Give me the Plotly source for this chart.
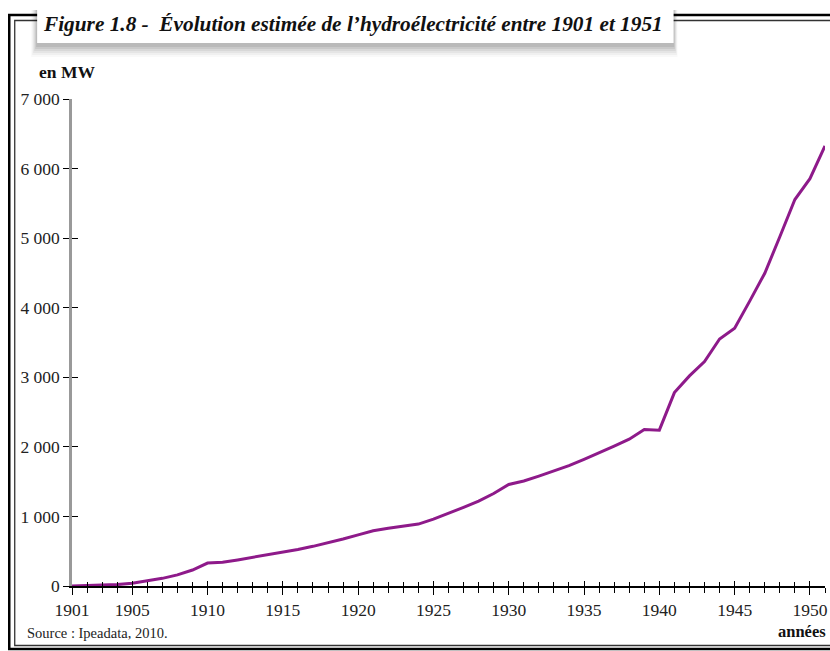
import plotly.graph_objects as go

years = list(range(1901, 1952))
mw = [0, 5, 10, 20, 40, 70, 110, 160, 230, 330,
      340, 375, 410, 445, 480, 525, 570, 620, 675, 735,
      795, 830, 860, 890, 960, 1040, 1130, 1220, 1330, 1460,
      1510, 1580, 1650, 1730, 1820, 1910, 2010, 2110, 2250, 2240,
      2780, 3020, 3225, 3550, 3705, 4095, 4495, 5020, 5555, 5855, 6325]
x_tick_vals = [1901, 1905, 1910, 1915, 1920, 1925, 1930, 1935, 1940, 1945, 1950]
y_tick_vals = [0, 1000, 2000, 3000, 4000, 5000, 6000, 7000]

W, H = 830, 651
L, R, T, B = 72, 2, 99, 65
PW, PH = W - L - R, H - T - B

def px(x):
    return (x - L) / PW

def py(y):
    return (H - B - y) / PH

FONT = "Liberation Serif"
LINE = "#8E1A8A"

fig = go.Figure()
fig.add_trace(go.Scatter(x=years, y=mw, mode="lines",
                         line=dict(color=LINE, width=3), showlegend=False,
                         hoverinfo="skip"))
# invisible trace for overlay axes (crossing ticks)
fig.add_trace(go.Scatter(x=[years[0]], y=[0], xaxis="x2", yaxis="y2",
                         mode="markers", marker=dict(opacity=0),
                         showlegend=False, hoverinfo="skip"))

xr = [1901, 1951]
yr = [0, 7000]
common_x = dict(range=xr, tickvals=x_tick_vals, showgrid=False, zeroline=False,
                tickcolor="black", tickwidth=1.3)
fig.update_layout(
    width=W, height=H,
    margin=dict(l=L, r=R, t=T, b=B),
    plot_bgcolor="white", paper_bgcolor="white",
    separators=", ",
    font=dict(family=FONT, color="#222", size=17),
    xaxis=dict(**common_x, ticks="outside", ticklen=7,
               showline=True, linecolor="black", linewidth=1.5,
               ticklabeloverflow="allow",
               minor=dict(tickvals=years, ticks="outside", ticklen=5,
                          tickcolor="black", tickwidth=1.3),
               tickfont=dict(family=FONT, size=17.5, color="#222")),
    xaxis2=dict(**common_x, overlaying="x", ticks="inside", ticklen=5,
                showticklabels=False, showline=False,
                minor=dict(tickvals=years, ticks="inside", ticklen=4,
                           tickcolor="black", tickwidth=1.3)),
    yaxis=dict(range=yr, tickvals=y_tick_vals, tickformat=",d",
               showgrid=False, zeroline=False, ticks="outside", ticklen=6,
               tickcolor="black", tickwidth=1.3,
               showline=True, linecolor="#999", linewidth=2.5,
               tickfont=dict(family=FONT, size=17.5, color="#222")),
    yaxis2=dict(range=yr, tickvals=y_tick_vals, overlaying="y",
                showgrid=False, zeroline=False, ticks="inside", ticklen=6,
                tickcolor="black", tickwidth=1.3, showticklabels=False),
)

shapes = []
# double frame
shapes.append(dict(type="path", xref="paper", yref="paper",
                   path=f"M {px(835)},{py(15)} L {px(9)},{py(15)} L {px(9)},{py(649)} L {px(835)},{py(649)}",
                   line=dict(color="black", width=2.5)))
shapes.append(dict(type="path", xref="paper", yref="paper",
                   path=f"M {px(835)},{py(20.5)} L {px(14.5)},{py(20.5)} L {px(14.5)},{py(645.5)} L {px(835)},{py(645.5)}",
                   line=dict(color="#333", width=1.3)))
# title box shadow (soft, mostly below)
for i, op in enumerate([0.025, 0.035, 0.045, 0.055, 0.065, 0.075]):
    g = 12 - 2 * i
    shapes.append(dict(type="rect", xref="paper", yref="paper",
                       x0=px(37 - g / 2), x1=px(676 + g / 3), y0=py(10), y1=py(45 + g),
                       fillcolor=f"rgba(0,0,0,{op})", line=dict(width=0), layer="above"))
shapes.append(dict(type="rect", xref="paper", yref="paper",
                   x0=px(37), x1=px(676), y0=py(5), y1=py(43),
                   fillcolor="white", line=dict(width=0), layer="above"))
fig.update_layout(shapes=shapes)

fig.add_annotation(xref="paper", yref="paper", x=px(41), y=py(24),
                   xanchor="left", yanchor="middle", showarrow=False,
                   text="<b><i>Figure 1.8 -  Évolution estimée de l’hydroélectricité entre 1901 et 1951</i></b>",
                   font=dict(family=FONT, size=21.3, color="#111"))
fig.add_annotation(xref="paper", yref="paper", x=px(67), y=py(72),
                   xanchor="center", yanchor="middle", showarrow=False,
                   text="<b>en MW</b>", font=dict(family=FONT, size=17.5, color="#111"))
fig.add_annotation(xref="paper", yref="paper", x=px(831), y=py(631),
                   xanchor="right", yanchor="middle", showarrow=False,
                   text="<b>années</b>", font=dict(family=FONT, size=16.5, color="#111"))
fig.add_annotation(xref="paper", yref="paper", x=px(25), y=py(633),
                   xanchor="left", yanchor="middle", showarrow=False,
                   text="Source : Ipeadata, 2010.", font=dict(family=FONT, size=14.5, color="#222"))

fig.write_html("out.html", config={"displayModeBar": False},
               post_script="document.body.style.margin='0';document.body.style.overflow='hidden';")
